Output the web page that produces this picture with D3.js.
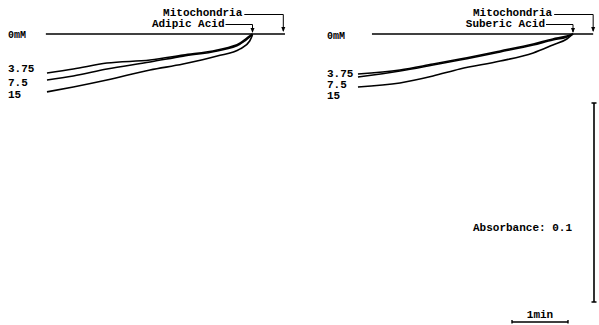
<!DOCTYPE html>
<html><head><meta charset="utf-8">
<script src="https://cdn.jsdelivr.net/npm/d3@7"></script>
<style>body{margin:0;background:#fff}svg{display:block}text{font-family:"Liberation Mono","DejaVu Sans Mono",monospace;font-weight:bold;fill:#000}</style>
</head><body>
<svg id="c" width="599" height="325"></svg>
<script>
// time after acid addition (min) and absorbance decrease (A)
const concLabels = ["3.75", "7.5", "15"];
const baselineLabel = "0mM";
const leftTime = [0, 0.05, 0.22, 0.63, 1.24, 1.83, 2.6, 3.2, 3.67];
const leftA375 = [0, 0.0010, 0.0045, 0.0080, 0.0106, 0.0131, 0.0146, 0.0176, 0.0196];
const leftA75  = [0, 0.0015, 0.0050, 0.0085, 0.0111, 0.0141, 0.0176, 0.0211, 0.0231];
const leftA15  = [0.0005, 0.0035, 0.0075, 0.0111, 0.0151, 0.0181, 0.0231, 0.0266, 0.0291];
const rightTime = [0, 0.11, 0.36, 0.71, 1.30, 2.02, 2.5, 3.09, 3.84];
const rightA375 = [0, 0.0010, 0.0025, 0.0050, 0.0085, 0.0126, 0.0151, 0.0181, 0.0201];
const rightA75  = [0, 0.0015, 0.0030, 0.0055, 0.0090, 0.0131, 0.0156, 0.0186, 0.0216];
const rightA15  = [0, 0.0025, 0.0055, 0.0095, 0.0136, 0.0176, 0.0211, 0.0246, 0.0266];
const leftBaseline = [-0.58, 3.69];   // time span of 0mM trace
const rightBaseline = [-0.36, 3.59];
const leftMitoTime = -0.55, rightMitoTime = -0.36;
const leftAcidName = "Adipic Acid", rightAcidName = "Suberic Acid";
const mitoName = "Mitochondria";
const absScale = 0.1, timeScale = 1;

const svg = d3.select("#c");
const y = d3.scaleLinear().domain([0, 0.1]).range([34, 233]);
const pxPerMin = 56;
const xL = d3.scaleLinear().domain([0, 1]).range([252.5, 252.5 - pxPerMin]);
const xR = d3.scaleLinear().domain([0, 1]).range([573, 573 - pxPerMin]);

function panel(x, time, series, base, mitoT, acidName, labelX, labelYs, baseLabelY) {
  const g = svg.append("g");
  const line = d3.line().x(d => x(d[0])).y(d => y(d[1])).curve(d3.curveMonotoneX);
  g.append("path").attr("d", d3.line()([[x(base[0]), y(0)], [x(base[1]), y(0)]]))
    .attr("stroke", "#000").attr("stroke-width", 1.5).attr("fill", "none");
  series.forEach(s => {
    const pts = time.map((t, i) => [t, s[i]]).sort((a, b) => x(a[0]) - x(b[0]));
    g.append("path").attr("d", line(pts)).attr("stroke", "#000").attr("stroke-width", 1.6).attr("fill", "none");
  });
  g.append("text").attr("x", labelX).attr("y", baseLabelY).attr("font-size", 10).text(baselineLabel);
  concLabels.forEach((c, i) => g.append("text").attr("x", labelX).attr("y", labelYs[i]).attr("font-size", 11).text(c));
  // mitochondria annotation
  const mx = x(mitoT), ax = x(0);
  g.append("text").attr("x", mx - 41).attr("y", 16).attr("text-anchor", "end").attr("font-size", 11).text(mitoName);
  g.append("path").attr("d", `M${mx - 39},14.5H${mx}V31`).attr("stroke", "#000").attr("stroke-width", 1).attr("fill", "none");
  g.append("path").attr("d", `M${mx - 2},27L${mx},32L${mx + 2},27Z`).attr("fill", "#000");
  g.append("text").attr("x", ax - 28).attr("y", 27).attr("text-anchor", "end").attr("font-size", 11).text(acidName);
  g.append("path").attr("d", `M${ax - 27},24.5H${ax}V32`).attr("stroke", "#000").attr("stroke-width", 1).attr("fill", "none");
  g.append("path").attr("d", `M${ax - 2},28L${ax},33L${ax + 2},28Z`).attr("fill", "#000");
}

panel(xL, leftTime, [leftA375, leftA75, leftA15], leftBaseline, leftMitoTime, leftAcidName, 8, [72, 86, 98], 38);
panel(xR, rightTime, [rightA375, rightA75, rightA15], rightBaseline, rightMitoTime, rightAcidName, 327, [77, 88, 99], 39);

// scale bars
const vx = 594, vTop = 103, vLen = y(absScale) - y(0);
svg.append("path").attr("d", `M${vx},${vTop}V${vTop + vLen}M${vx - 2.5},${vTop}H${vx + 2.5}M${vx - 2.5},${vTop + vLen}H${vx + 2.5}`)
  .attr("stroke", "#000").attr("stroke-width", 1.6).attr("fill", "none");
svg.append("text").attr("x", 473).attr("y", 231).attr("font-size", 11).text("Absorbance: " + absScale);
const hx = 512, hy = 322, hLen = Math.abs(xR(timeScale) - xR(0));
svg.append("path").attr("d", `M${hx},${hy}H${hx + hLen}M${hx},${hy - 2}V${hy + 1.5}M${hx + hLen},${hy - 2}V${hy + 1.5}`)
  .attr("stroke", "#000").attr("stroke-width", 1.4).attr("fill", "none");
svg.append("text").attr("x", hx + hLen / 2).attr("y", 318).attr("text-anchor", "middle").attr("font-size", 11).text(timeScale + "min");
</script>
</body></html>
